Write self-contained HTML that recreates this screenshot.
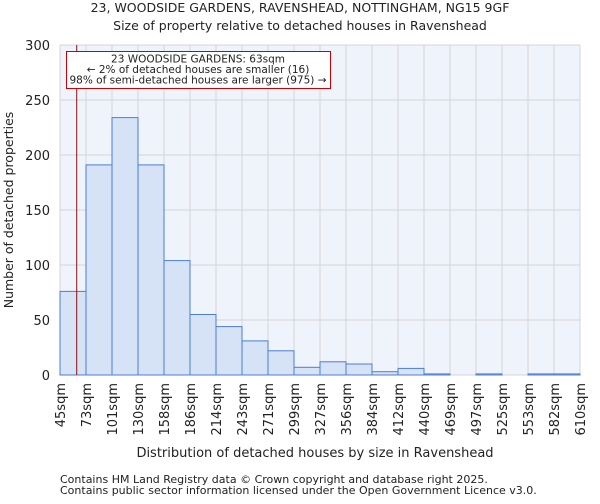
<!DOCTYPE html>
<html><head><meta charset="utf-8"><style>
body{margin:0;background:#fff;font-family:"DejaVu Sans","Liberation Sans",sans-serif;}
svg text{font-family:"DejaVu Sans","Liberation Sans",sans-serif;fill:#222;}
</style></head><body>
<svg id="chart" width="600" height="500">
<text x="300" y="12" font-size="12.5" text-anchor="middle">23, WOODSIDE GARDENS, RAVENSHEAD, NOTTINGHAM, NG15 9GF</text>
<text x="300" y="30" font-size="12.5" text-anchor="middle">Size of property relative to detached houses in Ravenshead</text>
<rect x="60" y="45" width="520" height="330" fill="#eff3fb"/>
<g id="grid"></g>
<g id="bars"></g>
<g id="axes"></g>
<text x="315" y="457" font-size="13" text-anchor="middle">Distribution of detached houses by size in Ravenshead</text>
<text transform="translate(13,210) rotate(-90)" font-size="12.5" text-anchor="middle">Number of detached properties</text>
<text x="60" y="483" font-size="11" fill="#444">Contains HM Land Registry data © Crown copyright and database right 2025.</text>
<text x="60" y="494" font-size="11" fill="#444">Contains public sector information licensed under the Open Government Licence v3.0.</text>
</svg>
<script>
const categories=["45sqm","73sqm","101sqm","130sqm","158sqm","186sqm","214sqm","243sqm","271sqm","299sqm","327sqm","356sqm","384sqm","412sqm","440sqm","469sqm","497sqm","525sqm","553sqm","582sqm","610sqm"];
const values=[76,191,234,191,104,55,44,31,22,7,12,10,3,6,1,0,1,0,1,1];
const yTicks=[0,50,100,150,200,250,300];
const binEdges=[45,73,101,130,158,186,214,243,271,299,327,356,384,412,440,469,497,525,553,582,610];
const markerValue=63;
const NS="http://www.w3.org/2000/svg";
const L=60,R=580,T=45,B=375,yMax=300;
const nb=values.length,bw=(R-L)/nb;
const xb=i=>L+i*bw;
const y=v=>B-(v/yMax)*(B-T);
function xs(v){for(let i=0;i<binEdges.length-1;i++){if(v<=binEdges[i+1])return xb(i)+(v-binEdges[i])/(binEdges[i+1]-binEdges[i])*bw;}return R;}
function mk(tag,attrs,parent){const e=document.createElementNS(NS,tag);for(const k in attrs)e.setAttribute(k,attrs[k]);parent.appendChild(e);return e;}
const grid=document.getElementById('grid'),bars=document.getElementById('bars'),axes=document.getElementById('axes');
yTicks.forEach(t=>{const l=mk('line',{x1:L,x2:R,y1:y(t),y2:y(t),stroke:'#d4d4d8','stroke-width':1},grid);


const tx=mk('text',{x:L-10,y:y(t)+5,'font-size':13,'text-anchor':'end'},axes);tx.textContent=t;

});
categories.forEach((c,i)=>{const gx=xb(i);const l=mk('line',{x1:gx,x2:gx,y1:T,y2:B,stroke:'#d4d4d8','stroke-width':1},grid);


const tx=mk('text',{transform:`translate(${gx+5},${B+8}) rotate(-90)`,'font-size':13,'text-anchor':'end'},axes);tx.textContent=c;

});
values.forEach((v,i)=>{if(v<=0)return;const r=mk('rect',{x:xb(i),y:y(v),width:bw,height:B-y(v),fill:'#d6e2f5',stroke:'#4a7fd4','stroke-width':1},bars);

});
const mx=xs(markerValue);
const ml=mk('line',{x1:mx,x2:mx,y1:T,y2:B,stroke:'#8a1010','stroke-width':1},axes);


const bx=mk('rect',{x:66.5,y:51.5,width:264,height:37,fill:'#fff',stroke:'#cc0000','stroke-width':1},axes);


["23 WOODSIDE GARDENS: 63sqm","← 2% of detached houses are smaller (16)","98% of semi-detached houses are larger (975) →"].forEach((s,i)=>{const t=mk('text',{x:198,y:62.5+i*10.5,'font-size':10.5,'text-anchor':'middle'},axes);t.textContent=s;

});
</script>
</body></html>
